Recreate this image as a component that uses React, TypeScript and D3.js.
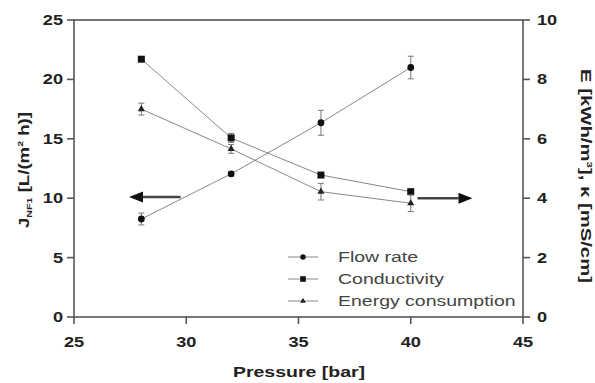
import React from "react";
import * as d3 from "d3";

// Pressure levels [bar]
const pressure = [28, 32, 36, 40];
// Permeate flux J_NF1 [L/(m² h)] (left axis) with standard deviation
const flowRate = [8.25, 12.05, 16.35, 21.0];
const flowRateErr = [0.5, 0.2, 1.05, 0.95];
// Conductivity κ [mS/cm] (right axis)
const conductivity = [8.68, 6.03, 4.78, 4.22];
const conductivityErr = [0.05, 0.15, 0.05, 0.05];
// Energy consumption E [kWh/m³] (right axis)
const energy = [7.0, 5.66, 4.22, 3.83];
const energyErr = [0.2, 0.15, 0.28, 0.28];

const xTicks = [25, 30, 35, 40, 45];
const leftTicks = [0, 5, 10, 15, 20, 25];
const rightTicks = [0, 2, 4, 6, 8, 10];
const legendLabels = ["Flow rate", "Conductivity", "Energy consumption"];

const W = 595;
const H = 383;
const SX = 1.3; // horizontal text stretch
const LEN_L = 1.33; // lengthwise stretch of the left vertical title
const LEN_R = 1.45; // lengthwise stretch of the right vertical title
const FONT = "Liberation Sans, Arial, Helvetica, sans-serif";
const AXIS = "#555";
const LINE = "#888";

const x = d3.scaleLinear().domain([25, 45]).range([74, 523]);
const yL = d3.scaleLinear().domain([0, 25]).range([317, 20]);
const yR = d3.scaleLinear().domain([0, 10]).range([317, 20]);

type Kind = "circle" | "square" | "triangle";

function Marker({ cx, cy, kind, scale = 1 }: { cx: number; cy: number; kind: Kind; scale?: number }) {
  if (kind === "circle") return <circle cx={cx} cy={cy} r={3.4 * scale} fill="#111" />;
  if (kind === "square") {
    const s = 7 * scale;
    return <rect x={cx - s / 2} y={cy - s / 2} width={s} height={s} fill="#111" />;
  }
  const p = d3.symbol(d3.symbolTriangle, 22 * scale * scale)();
  return <path d={p || ""} transform={`translate(${cx},${cy})`} fill="#222" />;
}

function Series({
  values,
  errs,
  y,
  kind,
}: {
  values: number[];
  errs: number[];
  y: d3.ScaleLinear<number, number>;
  kind: Kind;
}) {
  const line = d3
    .line<number>()
    .x((_, i) => x(pressure[i]))
    .y((v) => y(v));
  return (
    <g>
      <path d={line(values) || ""} fill="none" stroke={LINE} strokeWidth={1} />
      {values.map((v, i) => {
        const cx = x(pressure[i]);
        const y0 = y(v - errs[i]);
        const y1 = y(v + errs[i]);
        return (
          <g key={i} stroke="#777" strokeWidth={1}>
            <line x1={cx} x2={cx} y1={y0} y2={y1} />
            <line x1={cx - 3} x2={cx + 3} y1={y0} y2={y0} />
            <line x1={cx - 3} x2={cx + 3} y1={y1} y2={y1} />
          </g>
        );
      })}
      {values.map((v, i) => (
        <Marker key={i} cx={x(pressure[i])} cy={y(v)} kind={kind} />
      ))}
    </g>
  );
}

function Arrow({ from, to, y }: { from: number; to: number; y: number }) {
  const dir = Math.sign(to - from);
  const head = 14;
  const base = to - dir * head;
  return (
    <g>
      <line x1={from} x2={base} y1={y} y2={y} stroke="#444" strokeWidth={2.5} />
      <path d={`M${to},${y} L${base},${y - 5.5} L${base},${y + 5.5} Z`} fill="#111" />
    </g>
  );
}

export default function App() {
  return (
    <svg
      width={W}
      height={H}
      style={{ position: "absolute", left: 0, top: 0, background: "#fff" }}
      fontFamily={FONT}
    >
      {/* frame */}
      <rect x={x(25)} y={yL(25)} width={x(45) - x(25)} height={yL(0) - yL(25)} fill="none" stroke={AXIS} strokeWidth={1.6} />

      {/* left axis */}
      {leftTicks.map((t) => (
        <g key={t}>
          <line x1={x(25) - 7} x2={x(25)} y1={yL(t)} y2={yL(t)} stroke={AXIS} strokeWidth={1.6} />
          <text
            transform={`translate(${x(25) - 11},${yL(t) + 5}) scale(${SX},1)`}
            textAnchor="end"
            fontSize={14}
            fontWeight="bold"
            fill="#222"
          >
            {t}
          </text>
        </g>
      ))}

      {/* right axis */}
      {rightTicks.map((t) => (
        <g key={t}>
          <line x1={x(45)} x2={x(45) + 7} y1={yR(t)} y2={yR(t)} stroke={AXIS} strokeWidth={1.6} />
          <text
            transform={`translate(${x(45) + 14},${yR(t) + 5}) scale(${SX},1)`}
            textAnchor="start"
            fontSize={14}
            fontWeight="bold"
            fill="#222"
          >
            {t}
          </text>
        </g>
      ))}

      {/* bottom axis */}
      {xTicks.map((t) => (
        <g key={t}>
          <line x1={x(t)} x2={x(t)} y1={yL(0)} y2={yL(0) + 7} stroke={AXIS} strokeWidth={1.6} />
          <text
            transform={`translate(${x(t)},${347}) scale(${SX},1)`}
            textAnchor="middle"
            fontSize={14}
            fontWeight="bold"
            fill="#222"
          >
            {t}
          </text>
        </g>
      ))}

      {/* axis titles */}
      <text
        transform={`translate(${299},${377}) scale(${SX},1)`}
        textAnchor="middle"
        fontSize={15}
        fontWeight="bold"
        fill="#222"
      >
        Pressure [bar]
      </text>
      <text
        transform={`translate(${29},${170}) rotate(-90) scale(${LEN_L},1)`}
        textAnchor="middle"
        fontSize={14}
        fontWeight="bold"
        fill="#222"
      >
        J
        <tspan fontSize={8} dy={3}>NF1</tspan>
        <tspan dy={-3}> [L/(m</tspan>
        <tspan fontSize={8} dy={-6}>2</tspan>
        <tspan dy={6}> h)]</tspan>
      </text>
      <text
        transform={`translate(${581},${176}) rotate(90) scale(${LEN_R},1)`}
        textAnchor="middle"
        fontSize={14}
        fontWeight="bold"
        fill="#222"
      >
        E [kWh/m
        <tspan fontSize={8} dy={-6}>3</tspan>
        <tspan dy={6}>], κ [mS/cm]</tspan>
      </text>

      {/* data */}
      <Series values={conductivity} errs={conductivityErr} y={yR} kind="square" />
      <Series values={energy} errs={energyErr} y={yR} kind="triangle" />
      <Series values={flowRate} errs={flowRateErr} y={yL} kind="circle" />

      {/* axis pointers */}
      <Arrow from={x(29.75)} to={x(27.45)} y={yL(10.1)} />
      <Arrow from={x(40.3)} to={x(42.75)} y={yR(4.0)} />

      {/* legend */}
      {legendLabels.map((label, i) => {
        const ly = 257 + i * 22;
        const kinds: Kind[] = ["circle", "square", "triangle"];
        return (
          <g key={label}>
            <line x1={288} x2={318} y1={ly} y2={ly} stroke={LINE} strokeWidth={1} />
            <Marker cx={303} cy={ly} kind={kinds[i]} scale={0.8} />
            <text
              transform={`translate(${338},${ly + 5}) scale(${SX},1)`}
              fontSize={15}
              fill="#444"
            >
              {label}
            </text>
          </g>
        );
      })}
    </svg>
  );
}
